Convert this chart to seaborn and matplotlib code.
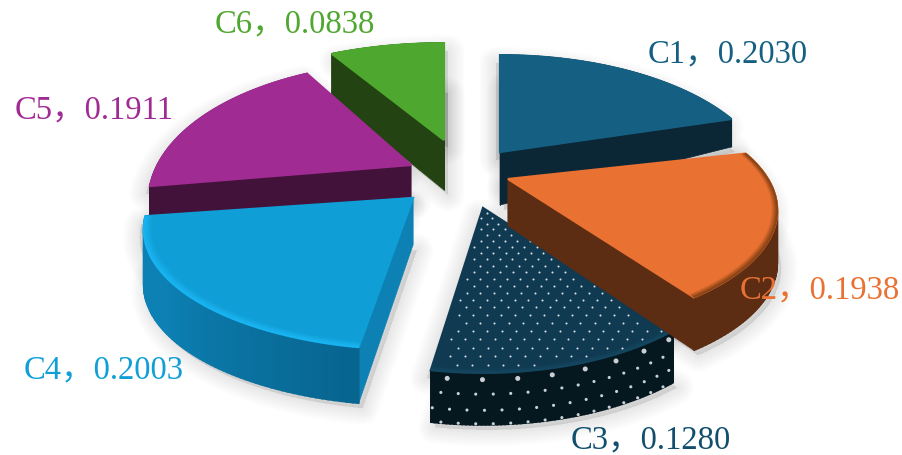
import numpy as np
import pandas as pd
import seaborn as sns
import matplotlib
matplotlib.use("Agg")
import matplotlib.pyplot as plt
from matplotlib.colors import to_rgb

# ---- data ----
categories = ["C1", "C2", "C3", "C4", "C5", "C6"]
values = [0.2030, 0.1938, 0.1280, 0.2003, 0.1911, 0.0838]

# ---- styling ----
top_colors = ["#156082", "#E97132", "#0F3A52", "#0F9ED5", "#A02B93", "#4EA72E"]
wall_colors = ["#0B2736", "#5C2C13", "#05171F", "#0D80B4", "#43123A", "#234312"]
arc_near = ["#0B2736", "#5C2C13", "#05171F", "#07658F", "#43123A", "#234312"]
rim_colors = ["#156082", "#8A4416", "#14465F", "#1AB4F2", "#A02B93", "#4EA72E"]
text_colors = ["#156082", "#E97132", "#124F6E", "#0F9ED5", "#A02B93", "#4EA72E"]
apex_xy = [(500, 152), (508, 179), (483, 208), (413, 198), (411, 165), (444, 140)]
h_scale = [1.0, 1.0, 0.96, 1.0, 0.975, 1.05]
v_scale = [1.0, 0.92, 1.0, 0.92, 1.06, 1.0]
angle_shift = [0.0, 3.0, 0.0, 0.0, 0.0, 0.0]
depth_apex = [53, 47, 53, 47, 32, 50]
depth_rim = [28, 53, 52, 56, 34, 45]
bevel_px = [0.0, 0.02, 0.02, 0.03, 0.0, 0.0]
label_xy = [(648, 62), (740, 298), (571, 448), (24, 378), (15, 118), (215, 32)]
draw_order = [5, 0, 4, 3, 2, 1]
RX, A, K = 260.0, 122.0, 0.26

sns.set_theme(style="white")
plt.rcParams["font.family"] = ["Liberation Serif", "Noto Sans CJK SC", "DejaVu Sans"]

df = pd.DataFrame({"category": categories, "value": values})
df["frac"] = df["value"] / df["value"].sum()
df["end"] = df["frac"].cumsum() * 2 * np.pi + np.radians(angle_shift)
df["start"] = df["end"] - df["frac"] * 2 * np.pi

fig = plt.figure(figsize=(9.03, 4.55), dpi=100, facecolor="white")
ax = fig.add_axes([0, 0, 1, 1])
ax.set_xlim(0, 903)
ax.set_ylim(455, 0)
ax.axis("off")


def project(theta, r, i):
    """Perspective map of polar pie coordinates to the picture."""
    u, v = r * np.sin(theta), r * np.cos(theta)
    s = 1.0 / (1.0 + K * v)
    x = apex_xy[i][0] + RX * u * s * h_scale[i]
    y = apex_xy[i][1] - A * v * s * v_scale[i]
    return x, y


def depth(r, i):
    return depth_apex[i] + (depth_rim[i] - depth_apex[i]) * r


def mix(a, b, t):
    a, b = np.array(to_rgb(a)), np.array(to_rgb(b))
    return tuple(a + (b - a) * t)


for i, row in df.iterrows():
    th = np.linspace(row["start"], row["end"], 80)
    xa, ya = project(th, 1.0, i)
    ax0, ay0 = project(0.0, 0.0, i)
    d_r, d_a = depth(1.0, i), depth(0.0, i)
    bx = np.r_[ax0, xa]
    by = np.r_[ay0 + d_a, ya + d_r]
    tx = np.r_[ax0, xa]
    ty = np.r_[ay0, ya]
    # soft cast shadow
    for lw in np.linspace(24, 2, 12):
        ax.fill(bx + 4, by + 5, color="black", alpha=0.009, lw=lw, zorder=1,
                joinstyle="round")
        ax.fill(tx + (4 if i == 5 else -4), ty + 8, color="black", alpha=0.006,
                lw=lw, zorder=1, joinstyle="round")

for rank, i in enumerate(draw_order):
    row = df.iloc[i]
    base = 10 + rank * 10
    th = np.linspace(row["start"], row["end"], 70)
    xa, ya = project(th, 1.0, i)
    ax0, ay0 = project(0.0, 0.0, i)
    d_r, d_a = depth(1.0, i), depth(0.0, i)

    # radial faces
    for end in (0, -1):
        ax.fill([ax0, xa[end], xa[end], ax0],
                [ay0, ya[end], ya[end] + d_r, ay0 + d_a],
                color=wall_colors[i], lw=0.5, zorder=base)
    # curved outer wall with a left/right gradient
    for k in range(len(th) - 1):
        t = k / (len(th) - 2)
        c = mix(arc_near[i], wall_colors[i], min(1.0, t * 1.6) if i in (3, 2) else t)
        ax.fill([xa[k], xa[k + 1], xa[k + 1], xa[k]],
                [ya[k], ya[k + 1], ya[k + 1] + d_r, ya[k] + d_r],
                facecolor=c, edgecolor=c, lw=1.2, zorder=base + 1)

    # top face, its own edge covers the wall seams behind it
    ax.fill(np.r_[ax0, xa], np.r_[ay0, ya], facecolor=top_colors[i],
            edgecolor=top_colors[i], lw=1.6, zorder=base + 2)

    # bevel along the rim of some slices
    if bevel_px[i] > 0:
        for r in np.linspace(1 - bevel_px[i], 1.0, 8):
            q = (r - (1 - bevel_px[i])) / bevel_px[i]
            xb, yb = project(th, r, i)
            ax.plot(xb, yb, color=mix(top_colors[i], rim_colors[i], q), lw=1.2,
                    solid_capstyle="butt", zorder=base + 3)

    # polka dots on the C3 slice
    if categories[i] == "C3":
        U, V = [], []
        for n, vv in enumerate(np.arange(-1.05, 0.01, 0.042)):
            uu = np.arange(-0.40, 0.75, 0.046) + (0.023 if n % 2 else 0.0)
            U.extend(uu)
            V.extend([vv] * len(uu))
        U, V = np.array(U), np.array(V)
        rr = np.hypot(U, V)
        aa = np.arctan2(U, V) % (2 * np.pi)
        keep = (rr < 0.985) & (aa > row["start"] + 0.03) & (aa < row["end"] - 0.03)
        px, py = project(aa[keep], rr[keep], i)
        ax.scatter(px, py, s=2.2, color="#D8DEE2", lw=0, zorder=base + 4)
        # dots on the curved wall
        for n, f in enumerate([0.13, 0.41, 0.72, 0.98]):
            step = 0.105 if n == 0 else 0.052
            offs = np.arange(row["start"] + 0.02, row["end"], step)
            offs = offs + (0.026 if n % 2 else 0.0)
            offs = offs[offs < row["end"]]
            wx, wy = project(offs, 1.0, i)
            ax.scatter(wx, wy + d_r * f, s=[13 if n == 0 else 5] * len(wx), marker="o",
                       color="#C9D0D4", lw=0, zorder=base + 4)

    # label
    ax.text(label_xy[i][0], label_xy[i][1], f"{row['category']}，{row['value']:.4f}",
            color=text_colors[i], fontsize=23.5, ha="left", va="baseline", zorder=200)

sns.despine(ax=ax, left=True, bottom=True)
fig.savefig("out.png", dpi=100, facecolor="white")
